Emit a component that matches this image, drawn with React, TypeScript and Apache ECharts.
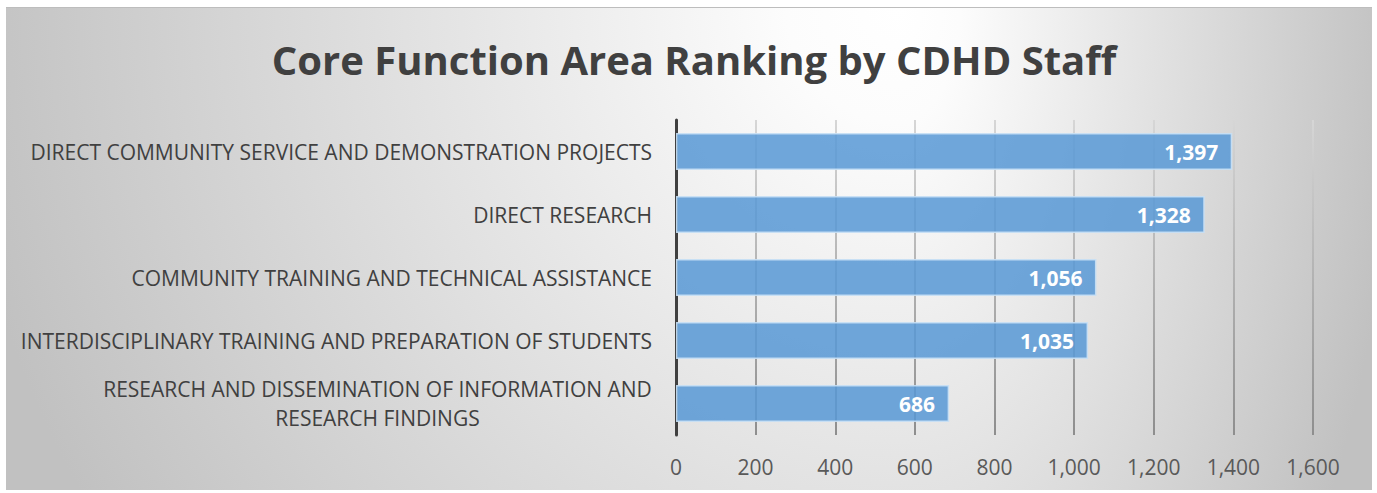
import React, { useEffect, useRef } from "react";
import * as echarts from "echarts";

const categories = [
  "DIRECT COMMUNITY SERVICE AND DEMONSTRATION PROJECTS",
  "DIRECT RESEARCH",
  "COMMUNITY TRAINING AND TECHNICAL ASSISTANCE",
  "INTERDISCIPLINARY TRAINING AND PREPARATION OF STUDENTS",
  "RESEARCH AND DISSEMINATION OF INFORMATION AND\nRESEARCH FINDINGS",
];
const values = [1397, 1328, 1056, 1035, 686];
const axisMin = 0;
const axisMax = 1600;
const axisStep = 200;
const title = "Core Function Area Ranking by CDHD Staff";

const FONT = "'Open Sans', 'Noto Sans', sans-serif";
const CAT_SIZE = 21;

function measure(text: string, font: string): number {
  const c = document.createElement("canvas");
  const ctx = c.getContext("2d");
  if (!ctx) return text.length * 12;
  ctx.font = font;
  return ctx.measureText(text).width;
}

const fmt = (v: number) => v.toLocaleString("en-US");

const bgStops = [
  { offset: 0, color: "#ffffff" },
  { offset: 0.12, color: "#fcfcfc" },
  { offset: 1, color: "#c1c1c1" },
];

export default function App() {
  const ref = useRef<HTMLDivElement>(null);
  useEffect(() => {
    if (!ref.current) return;
    const chart = echarts.init(ref.current, undefined, { renderer: "svg" });
    const catFont = `${CAT_SIZE}px 'Open Sans'`;
    const longest = Math.max(
      ...categories
        .filter((c) => c.indexOf("\n") >= 0)
        .flatMap((c) => c.split("\n"))
        .map((l) => measure(l, catFont)),
      10
    );
    chart.setOption({
      animation: false,
      graphic: [
        {
          type: "rect",
          z: -10,
          silent: true,
          shape: { x: 6, y: 7, width: 894, height: 911 },
          style: {
            fill: { type: "radial", x: 1, y: 0, r: 1.06, colorStops: bgStops },
          },
        },
        {
          type: "rect",
          z: -10,
          silent: true,
          shape: { x: 900, y: 7, width: 472, height: 911 },
          style: {
            fill: { type: "radial", x: 0, y: 0, r: 1.06, colorStops: bgStops },
          },
        },
        {
          type: "rect",
          z: -9,
          silent: true,
          shape: { x: 0, y: 490, width: 1377, height: 10 },
          style: { fill: "#ffffff" },
        },
        {
          type: "rect",
          z: -9,
          silent: true,
          shape: { x: 1372, y: 0, width: 10, height: 493 },
          style: { fill: "#ffffff" },
        },
        {
          type: "line",
          z: -8,
          silent: true,
          shape: { x1: 6, y1: 7.5, x2: 1372, y2: 7.5 },
          style: { stroke: "#bdbdbd", lineWidth: 1 },
        },
      ],
      title: {
        text: title,
        left: 689,
        top: 34,
        textAlign: "center",
        textStyle: {
          fontFamily: FONT,
          fontWeight: "bold",
          fontSize: 40,
          color: "#404040",
        },
      },
      grid: { left: 676, right: 1377 - 1313, top: 120, bottom: 493 - 435, containLabel: false },
      xAxis: {
        type: "value",
        min: axisMin,
        max: axisMax,
        interval: axisStep,
        axisLine: { show: false },
        axisTick: { show: false },
        axisLabel: {
          margin: 21,
          fontFamily: FONT,
          fontSize: 21,
          color: "#595959",
          formatter: (v: number) => fmt(v),
        },
        splitLine: {
          show: true,
          lineStyle: {
            width: 2,
            color: {
              type: "linear",
              global: true,
              x: 0,
              y: 120,
              x2: 0,
              y2: 435,
              colorStops: [
                { offset: 0, color: "#d6d6d6" },
                { offset: 1, color: "#8e8e8e" },
              ],
            },
          },
        },
      },
      yAxis: {
        type: "category",
        inverse: true,
        data: categories,
        axisLine: { show: true, lineStyle: { color: "#404040", width: 3 } },
        axisTick: { show: false },
        axisLabel: {
          margin: 24,
          fontFamily: FONT,
          fontSize: CAT_SIZE,
          color: "#404040",
          formatter: (v: string) => {
            if (v.indexOf("\n") < 0) return v;
            return v
              .split("\n")
              .map((l) => `{c|${l}}`)
              .join("\n");
          },
          rich: {
            c: {
              fontFamily: FONT,
              fontSize: CAT_SIZE,
              color: "#404040",
              lineHeight: 29,
              align: "center",
              width: Math.ceil(longest),
            },
          },
        },
      },
      series: [
        {
          type: "bar",
          data: values,
          barWidth: 37,
          itemStyle: {
            color: "rgba(88,153,213,0.86)",
            borderColor: "rgba(200,224,245,0.9)",
            borderWidth: 1.5,
          },
          label: {
            show: true,
            position: "insideRight",
            distance: 14,
            fontFamily: FONT,
            fontWeight: "bold",
            fontSize: 21,
            color: "#ffffff",
            formatter: (p: any) => fmt(p.value),
          },
        },
      ],
    });
    return () => chart.dispose();
  }, []);
  return (
    <div
      ref={ref}
      style={{ position: "absolute", left: 0, top: 0, width: 1377, height: 493 }}
    />
  );
}
